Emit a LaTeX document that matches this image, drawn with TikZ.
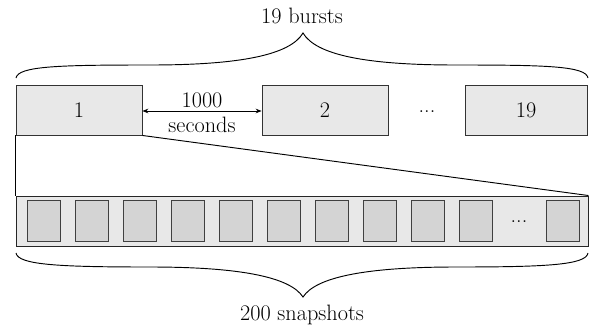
\documentclass[tikz,border=0pt]{standalone}
\usetikzlibrary{arrows.meta}
\begin{document}
\begin{tikzpicture}[x=0.03cm,y=-0.03cm,
  every node/.style={font=\fontsize{19}{22}\selectfont},
  burst/.style={draw=black!80,line width=0.8pt,fill=black!9,minimum width=126*0.03cm,minimum height=50*0.03cm,inner sep=0pt},
  snap/.style={draw=black!75,line width=0.8pt,fill=black!17,minimum width=33*0.03cm,minimum height=41*0.03cm,inner sep=0pt},
  wire/.style={line width=0.8pt,black}]
\useasboundingbox (0,0) rectangle (590,329);
% bursts
\node[burst] (b1) at (79,110) {1};
\node[burst] (b2) at (325,110) {2};
\node[burst,minimum width=122*0.03cm] (b19) at (526,110) {19};
\node (bdots) at (427,112) {...};
% gap between bursts
\draw[wire,{Stealth[length=5pt,width=4pt]}-{Stealth[length=5pt,width=4pt]}] (b1.east |- 0,111) -- (b2.west |- 0,111);
\node (gap1) at (202,100) {1000};
\node (gap2) at (202,125) {seconds};
% snapshot strip
\node[draw=black!85,line width=0.8pt,fill=black!9,minimum width=572*0.03cm,minimum height=50*0.03cm,inner sep=0pt] (strip) at (302,221) {};
\foreach \k in {0,...,9}{
  \node[snap] (s\k) at (43.5+48*\k,221) {};
}
\node[snap] (slast) at (562.5,221) {};
\node (sdots) at (519,222) {...};
% zoom lines
\draw[wire] (b1.south west) -- (strip.north west);
\draw[wire] (b1.south east) -- (strip.north east);
% top brace
\draw[wire] (16,78) .. controls (18,66) and (60,65) .. (150,65)
  .. controls (240,65) and (290,55) .. (303,33)
  .. controls (316,55) and (366,65) .. (456,65)
  .. controls (546,65) and (586,66) .. (588,78);
\node (top) at (302,16) {19 bursts};
% bottom brace
\draw[wire] (16,253) .. controls (18,265) and (60,267) .. (150,267)
  .. controls (240,267) and (290,277) .. (303,297)
  .. controls (316,277) and (366,267) .. (456,267)
  .. controls (546,267) and (586,265) .. (588,253);
\node (bot) at (302,315) {200 snapshots};
\end{tikzpicture}
\end{document}
